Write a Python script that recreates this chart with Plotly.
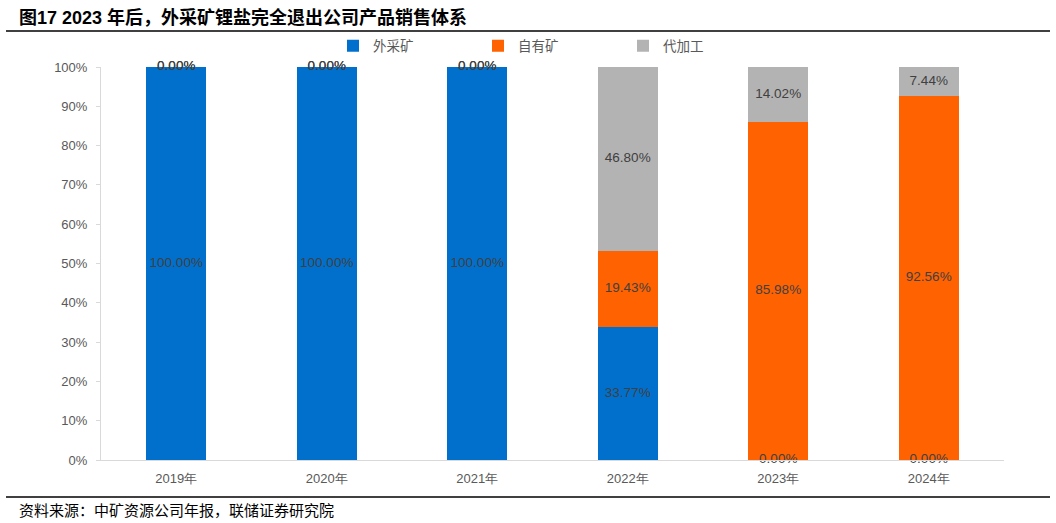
import plotly.graph_objects as go

categories = ["2019年", "2020年", "2021年", "2022年", "2023年", "2024年"]
series_names = ["外采矿", "自有矿", "代加工"]
waicai = [100.00, 100.00, 100.00, 33.77, 0.00, 0.00]
ziyou = [0.00, 0.00, 0.00, 19.43, 85.98, 92.56]
daijiagong = [0.00, 0.00, 0.00, 46.80, 14.02, 7.44]
y_ticks = [0, 10, 20, 30, 40, 50, 60, 70, 80, 90, 100]
y_tick_labels = [f"{v}%" for v in y_ticks]

title_text = "图17 2023 年后，外采矿锂盐完全退出公司产品销售体系"
source_text = "资料来源：中矿资源公司年报，联储证券研究院"

colors = ["#0070CC", "#FF6200", "#B3B3B3"]
series = [waicai, ziyou, daijiagong]

W, H = 1056, 523
L, R, T, B = 101, 52, 67, 63
pw = W - L - R
ph = H - T - B

def px_x(x):
    return (x - L) / pw

def px_y(y):
    return (H - B - y) / ph

fig = go.Figure()
for name, vals, c in zip(series_names, series, colors):
    fig.add_trace(go.Bar(
        x=categories, y=vals, name=name,
        marker=dict(color=c, line=dict(width=0)),
        width=0.4,
    ))

# data labels (including zero values) at segment midpoints
lx, ly, lt = [], [], []
base = [0.0] * len(categories)
for vals in series:
    for i, v in enumerate(vals):
        lx.append(categories[i])
        ly.append(base[i] + v / 2)
        lt.append(f"{v:.2f}%")
        base[i] += v
fig.add_trace(go.Scatter(
    x=lx, y=ly, text=lt, mode="text", showlegend=False, cliponaxis=False,
    textfont=dict(family="Liberation Sans, Arial", size=13.5, color="#404040"),
    hoverinfo="skip",
))

fig.update_layout(
    barmode="stack",
    width=W, height=H,
    margin=dict(l=L, r=R, t=T, b=B),
    plot_bgcolor="white", paper_bgcolor="white",
    bargap=0.6,
    showlegend=True,
    legend=dict(
        orientation="h", x=px_x(333), y=px_y(46), xanchor="left", yanchor="middle",
        entrywidth=100, entrywidthmode="pixels",
        font=dict(family="Noto Sans CJK SC", size=13.5, color="#595959"),
        itemwidth=30, traceorder="normal", bgcolor="rgba(0,0,0,0)",
    ),
    xaxis=dict(
        showgrid=False, showline=True, linecolor="#D9D9D9", linewidth=1,
        ticks="", tickfont=dict(family="Liberation Sans, Arial", size=13, color="#595959"),
        ticklabelstandoff=6,
        fixedrange=True,
    ),
    yaxis=dict(
        range=[0, 100], tickvals=y_ticks, ticktext=y_tick_labels,
        showgrid=False, showline=True, linecolor="#D9D9D9", linewidth=1,
        zeroline=False, ticks="outside", ticklen=4, tickcolor="#D9D9D9",
        tickfont=dict(family="Liberation Sans, Arial", size=13, color="#595959"),
        ticklabelstandoff=6,
        fixedrange=True,
    ),
    font=dict(family="Liberation Sans, Noto Sans CJK SC"),
)

fig.add_annotation(
    text="<b>" + title_text + "</b>", xref="paper", yref="paper", x=px_x(17), y=px_y(17),
    xanchor="left", yanchor="middle", showarrow=False,
    font=dict(family="Liberation Sans, Noto Sans CJK SC", size=18, color="#000000"),
)
fig.add_annotation(
    text=source_text, xref="paper", yref="paper", x=px_x(17), y=px_y(510),
    xanchor="left", yanchor="middle", showarrow=False,
    font=dict(family="Noto Sans CJK SC", size=15, color="#000000"),
)
fig.add_shape(type="line", xref="paper", yref="paper",
              x0=px_x(6), x1=px_x(1050), y0=px_y(31), y1=px_y(31),
              line=dict(color="#000000", width=1.3))
fig.add_shape(type="line", xref="paper", yref="paper",
              x0=px_x(6), x1=px_x(1050), y0=px_y(497), y1=px_y(497),
              line=dict(color="#000000", width=1.3))

fig.write_html("out.html", config={"displayModeBar": False})

with open("out.html", "r", encoding="utf-8") as f:
    html = f.read()
html = html.replace("<body>", '<body style="margin:0;padding:0;overflow:hidden;">', 1)
with open("out.html", "w", encoding="utf-8") as f:
    f.write(html)
